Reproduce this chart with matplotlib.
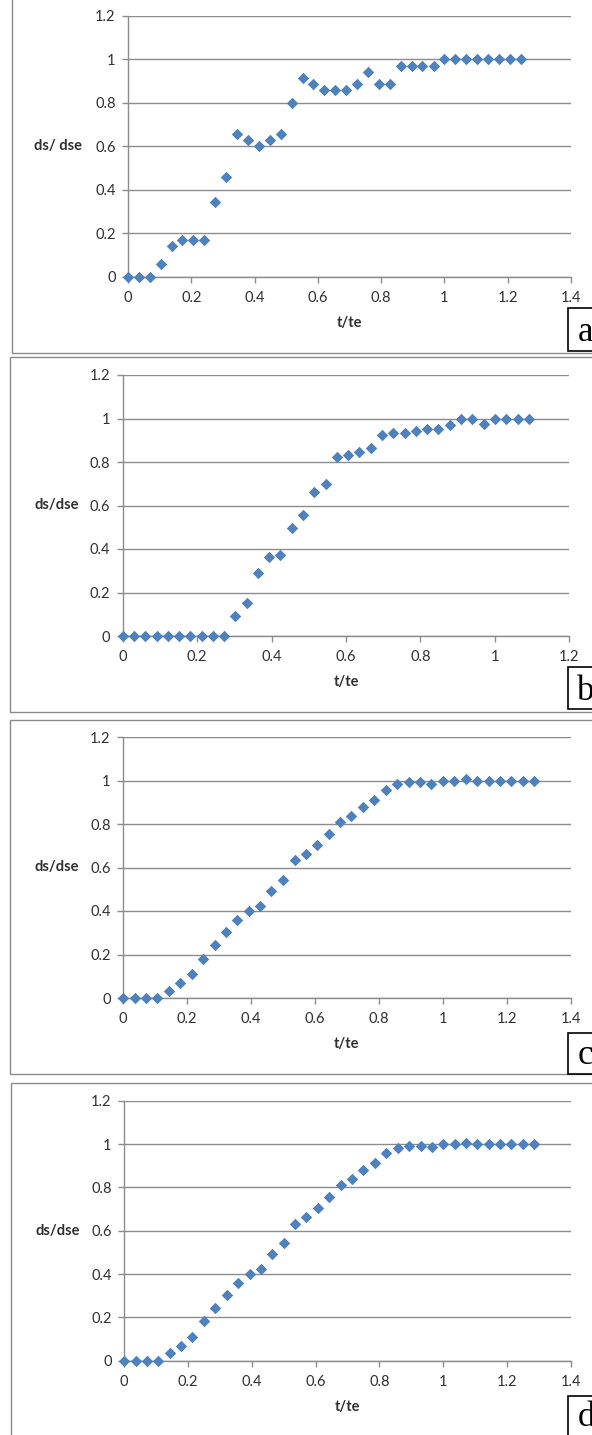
import matplotlib.pyplot as plt
from matplotlib.patches import Rectangle

# normalised time and strain for the four runs
t_a = [0, 0.034, 0.069, 0.103, 0.138, 0.172, 0.207, 0.241, 0.276, 0.310,
       0.345, 0.379, 0.414, 0.448, 0.483, 0.517, 0.552, 0.586, 0.621, 0.655,
       0.690, 0.724, 0.759, 0.793, 0.828, 0.862, 0.897, 0.931, 0.966, 1.000,
       1.034, 1.069, 1.103, 1.138, 1.172, 1.207, 1.241]
ds_a = [0, 0, 0, 0.057, 0.143, 0.171, 0.171, 0.171, 0.343, 0.457,
        0.657, 0.629, 0.600, 0.629, 0.657, 0.800, 0.914, 0.886, 0.857, 0.857,
        0.857, 0.886, 0.943, 0.886, 0.886, 0.971, 0.971, 0.971, 0.971, 1,
        1, 1, 1, 1, 1, 1, 1]

t_b = [0, 0.030, 0.061, 0.091, 0.121, 0.152, 0.182, 0.212, 0.242, 0.273,
       0.303, 0.333, 0.364, 0.394, 0.424, 0.455, 0.485, 0.515, 0.545, 0.576,
       0.606, 0.636, 0.667, 0.697, 0.727, 0.758, 0.788, 0.818, 0.848, 0.879,
       0.909, 0.939, 0.970, 1.000, 1.030, 1.061, 1.091]
ds_b = [0, 0, 0, 0, 0, 0, 0, 0, 0, 0,
        0.090, 0.152, 0.288, 0.362, 0.372, 0.498, 0.555, 0.662, 0.697, 0.821,
        0.832, 0.848, 0.866, 0.923, 0.933, 0.933, 0.944, 0.952, 0.952, 0.969,
        1, 1, 0.975, 1, 1, 1, 1]

t_c = [0, 0.036, 0.071, 0.107, 0.143, 0.179, 0.214, 0.250, 0.286, 0.321,
       0.357, 0.393, 0.429, 0.464, 0.500, 0.536, 0.571, 0.607, 0.643, 0.679,
       0.714, 0.750, 0.786, 0.821, 0.857, 0.893, 0.929, 0.964, 1.000, 1.036,
       1.071, 1.107, 1.143, 1.179, 1.214, 1.250, 1.286]
ds_c = [0, 0, 0, 0, 0.034, 0.069, 0.109, 0.181, 0.244, 0.305,
        0.357, 0.402, 0.425, 0.493, 0.544, 0.633, 0.664, 0.703, 0.754, 0.811,
        0.838, 0.878, 0.912, 0.958, 0.984, 0.992, 0.992, 0.985, 1, 1,
        1.007, 1, 1, 1, 1, 1, 1]

t_d = list(t_c)
ds_d = list(ds_c)

y_ticks = [0, 0.2, 0.4, 0.6, 0.8, 1, 1.2]
y_labels = ['0', '0.2', '0.4', '0.6', '0.8', '1', '1.2']
x_ticks_14 = [0, 0.2, 0.4, 0.6, 0.8, 1, 1.2, 1.4]
x_labels_14 = ['0', '0.2', '0.4', '0.6', '0.8', '1', '1.2', '1.4']
x_ticks_12 = [0, 0.2, 0.4, 0.6, 0.8, 1, 1.2]
x_labels_12 = ['0', '0.2', '0.4', '0.6', '0.8', '1', '1.2']

W, H = 592, 1435
BLUE = '#4F81BD'
GRID = '#8c8c8c'
TXT = '#303030'
FONT = 'Lato'
FS = 10.5

fig = plt.figure(figsize=(W / 100, H / 100), dpi=100)


def box(x0, y0, x1, y1, **kw):
    # rectangle given in pixel coordinates from the top-left corner
    fig.add_artist(Rectangle((x0 / W, 1 - y1 / H), (x1 - x0) / W, (y1 - y0) / H,
                             transform=fig.transFigure, **kw))


def panel(t, ds, ylab, letter, frame, plot, lbox, xticks, xlabels):
    box(*frame, facecolor='white', edgecolor='#8a8a8a', lw=1.0, zorder=0)
    x0, y0, x1, y1 = plot
    ax = fig.add_axes([x0 / W, 1 - y1 / H, (x1 - x0) / W, (y1 - y0) / H])
    ax.set_facecolor('none')
    ax.scatter(t, ds, marker='D', s=34, color=BLUE, linewidths=0, zorder=3,
               clip_on=False)
    ax.set_xlim(xticks[0], xticks[-1])
    ax.set_ylim(0, 1.2)
    ax.set_xticks(xticks)
    ax.set_xticklabels(xlabels)
    ax.set_yticks(y_ticks)
    ax.set_yticklabels(y_labels)
    ax.grid(axis='y', color=GRID, lw=1.0)
    ax.set_axisbelow(True)
    for s in ('top', 'right'):
        ax.spines[s].set_visible(False)
    for s in ('left', 'bottom'):
        ax.spines[s].set_color(GRID)
        ax.spines[s].set_linewidth(1.0)
    ax.tick_params(colors=GRID, length=4, width=1.0, labelcolor=TXT,
                   labelsize=FS)
    ax.tick_params(axis='x', pad=6)
    ax.tick_params(axis='y', pad=5)
    for lab in ax.get_xticklabels() + ax.get_yticklabels():
        lab.set_family(FONT)
    ax.set_xlabel('t/te', family=FONT, fontweight='bold', fontsize=FS,
                  color=TXT, va='center')
    ax.xaxis.set_label_coords(0.5, -46 / (y1 - y0))
    ax.set_ylabel(ylab, family=FONT, fontweight='bold', fontsize=FS,
                  color=TXT, rotation=0, ha='right', va='center')
    ax.yaxis.set_label_coords(lbox[5] / (x1 - x0), 0.5)
    bx0, by0, bx1, by1, base = lbox[:5]
    box(bx0, by0, bx1, by1, facecolor='white', edgecolor='black', lw=1.2,
        zorder=5)
    fig.text((bx0 + 9) / W, 1 - base / H, letter, family='Liberation Serif',
             fontsize=25, color='black', ha='left', va='baseline', zorder=6)
    return ax


panel(t_a, ds_a, 'ds/ dse', 'a', (12, -5, 610, 352.7), (128, 15.7, 570.8, 276.7),
      (568.3, 308.3, 610, 350.7, 341, -46), x_ticks_14, x_labels_14)
panel(t_b, ds_b, 'ds/dse', 'b', (10, 357, 610, 711.7), (122.7, 375, 569.3, 636),
      (568.3, 667, 610, 709, 700, -44), x_ticks_12, x_labels_12)
panel(t_c, ds_c, 'ds/dse', 'c', (10, 719.7, 610, 1074), (123.1, 737, 570.8, 998),
      (568.3, 1032.7, 610, 1074, 1064, -44), x_ticks_14, x_labels_14)
panel(t_d, ds_d, 'ds/dse', 'd', (11, 1083, 610, 1445), (124.2, 1100.7, 570.8, 1360.7),
      (568.3, 1396, 610, 1445, 1426, -44), x_ticks_14, x_labels_14)

fig.savefig('out.png', dpi=100, facecolor='white')
